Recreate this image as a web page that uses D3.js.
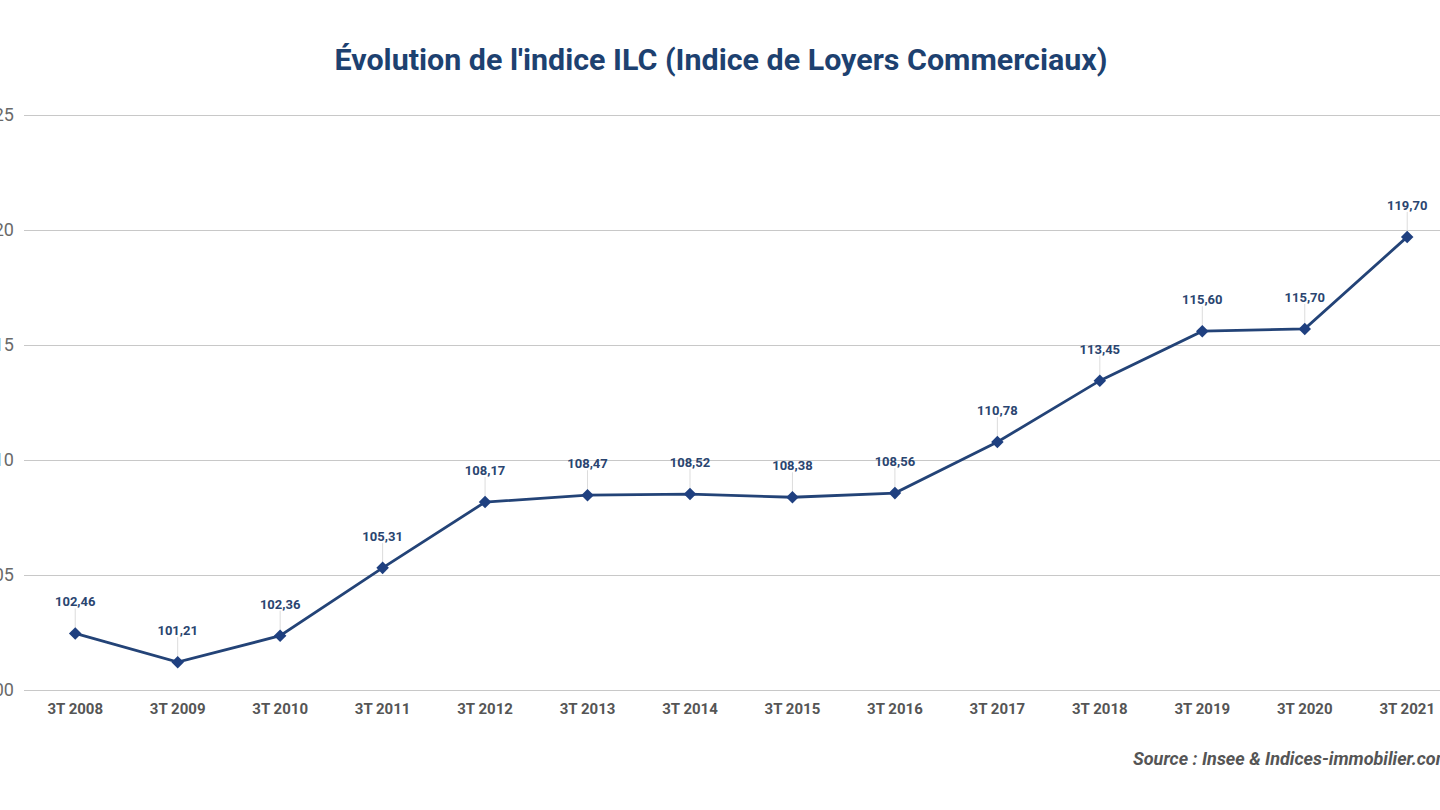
<!DOCTYPE html>
<html><head><meta charset="utf-8">
<script src="https://cdn.jsdelivr.net/npm/d3@7"></script>
<style>html,body{margin:0;padding:0;background:#fff;overflow:hidden}</style>
</head><body>
<svg id="c" width="1440" height="810"></svg>
<script>
const categories = ["3T 2008","3T 2009","3T 2010","3T 2011","3T 2012","3T 2013","3T 2014","3T 2015","3T 2016","3T 2017","3T 2018","3T 2019","3T 2020","3T 2021"];
const values = [102.46,101.21,102.36,105.31,108.17,108.47,108.52,108.38,108.56,110.78,113.45,115.60,115.70,119.70];
const yTicks = [100,105,110,115,120,125];
const title = "Évolution de l'indice ILC (Indice de Loyers Commerciaux)";
const source = "Source : Insee & Indices-immobilier.com";

const svg = d3.select("#c");
const x = d3.scaleBand().domain(categories).range([24, 24 + 14*102.46]);
const y = d3.scaleLinear().domain([100,125]).range([690,115]);
const cx = d => x(d) + x.bandwidth()/2;

svg.append("text").attr("x",721).attr("y",70).attr("text-anchor","middle")
  .attr("font-family","Roboto").attr("font-weight","bold").attr("font-size",29)
  .attr("textLength",773).attr("lengthAdjust","spacingAndGlyphs")
  .attr("fill","#1d4170").text(title);

const yAxis = svg.append("g").attr("transform","translate(24,0)")
  .call(d3.axisLeft(y).tickValues(yTicks).tickSize(-1440).tickPadding(10).tickFormat(d3.format("d")));
yAxis.select(".domain").remove();
yAxis.selectAll(".tick line").attr("stroke","#c8c8c8").attr("stroke-width",1);
yAxis.selectAll(".tick text").attr("font-family","Roboto").attr("font-size",18).attr("fill","#6a6a6a");

const xAxis = svg.append("g").attr("transform","translate(0,690)")
  .call(d3.axisBottom(x).tickSize(0).tickPadding(13));
xAxis.select(".domain").remove();
xAxis.selectAll(".tick text").attr("font-family","Roboto").attr("font-weight","bold").attr("font-size",15).attr("fill","#555");

const pts = categories.map((c,i)=>({c, v: values[i]}));

svg.append("g").selectAll("line").data(pts).join("line")
  .attr("x1",d=>cx(d.c)).attr("x2",d=>cx(d.c))
  .attr("y1",d=>y(d.v)-25).attr("y2",d=>y(d.v))
  .attr("stroke","#dcdcdc").attr("stroke-width",1);

svg.append("path").datum(pts)
  .attr("d", d3.line().x(d=>cx(d.c)).y(d=>y(d.v)))
  .attr("fill","none").attr("stroke","#234377").attr("stroke-width",2.8);

svg.append("g").selectAll("path").data(pts).join("path")
  .attr("transform",d=>`translate(${cx(d.c)},${y(d.v)})`)
  .attr("d", d3.symbol().type(d3.symbolDiamond2).size(100))
  .attr("fill","#1f4080");

svg.append("g").selectAll("text").data(pts).join("text")
  .attr("x",d=>cx(d.c)).attr("y",d=>y(d.v)-27)
  .attr("text-anchor","middle").attr("font-family","Roboto").attr("font-weight","bold")
  .attr("font-size",13).attr("fill","#2a4570")
  .text(d=>d3.format(".2f")(d.v).replace(".",","));

svg.append("text").attr("x",1133).attr("y",765)
  .attr("font-family","Roboto").attr("font-weight","bold").attr("font-style","italic")
  .attr("font-size",18).attr("fill","#555").text(source);
</script>
</body></html>
